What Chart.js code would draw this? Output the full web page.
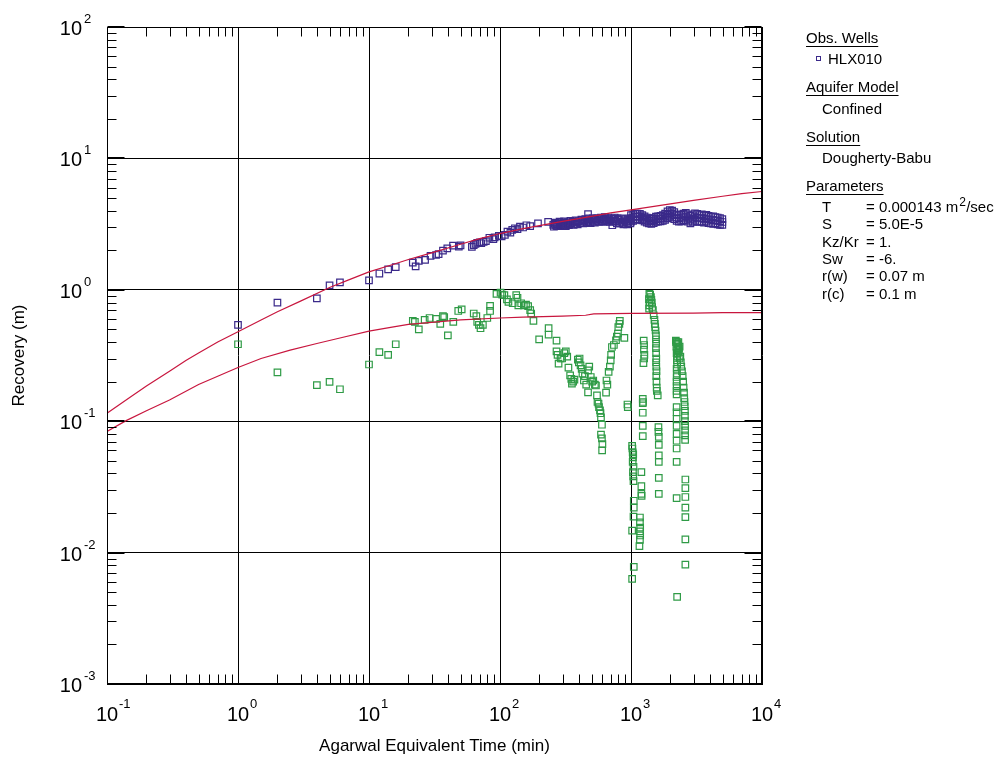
<!DOCTYPE html>
<html>
<head>
<meta charset="utf-8">
<script src="https://cdn.jsdelivr.net/npm/chart.js@4.4.0/dist/chart.umd.min.js"></script>
<style>
  body { margin: 0; background: #fff; }
  #wrap { width: 1000px; height: 758px; position: relative; }
</style>
</head>
<body>
<div id="wrap"><canvas id="chart"></canvas></div>
<script>
// --- tick labels (decade exponents) ---
const xExponents = [-1, 0, 1, 2, 3, 4];
const yExponents = [-3, -2, -1, 0, 1, 2];

// --- HLX010 recovery, sparse part (min, m) ---
const blueX = [1.0, 2.0, 4.0, 5.0, 6.0, 10, 12, 14, 16, 21.6, 22.7, 24, 26.8, 29.5, 32.5, 34, 36.7, 39.6, 43.8, 48.5, 50,
  61, 63, 65, 67, 70, 72, 75, 78, 83, 89, 91, 98, 103, 109, 114, 120, 124, 130, 136, 142, 150, 159, 170, 195, 233,
  255, 262, 268, 275, 282, 290, 298, 305, 312, 320, 330, 340, 350, 360, 372, 385, 398, 410, 425, 440, 455, 470, 470,
  485, 500, 520, 540, 560, 580, 600, 620, 640, 660, 680, 700, 720, 740, 760, 780, 800, 830, 860, 890, 920, 950, 980,
  258, 265, 272, 285, 295, 308, 318, 335, 345, 365, 378, 392, 418, 432, 448, 462, 478, 492, 510, 530,
  550, 570, 590, 610, 630, 650, 670, 690, 710, 730, 750, 770, 790, 815, 845, 875, 905, 935, 965, 990];
const blueY = [0.54, 0.80, 0.86, 1.08, 1.14, 1.18, 1.33, 1.43, 1.49, 1.61, 1.51, 1.66, 1.69, 1.81, 1.84, 1.87, 1.99, 2.07, 2.17, 2.13, 2.18,
  2.12, 2.19, 2.24, 2.28, 2.30, 2.26, 2.32, 2.35, 2.49, 2.43, 2.51, 2.57, 2.55, 2.62, 2.77, 2.72, 2.86, 2.94, 2.90, 3.02, 2.98, 3.10, 3.05, 3.20, 3.29,
  3.12, 3.18, 3.08, 3.15, 3.22, 3.10, 3.17, 3.25, 3.12, 3.20, 3.28, 3.15, 3.22, 3.30, 3.18, 3.26, 3.33, 3.21, 3.30, 3.38, 3.25, 3.77, 3.35,
  3.28, 3.40, 3.30, 3.42, 3.35, 3.45, 3.32, 3.40, 3.48, 3.36, 3.44, 3.38, 3.10, 3.46, 3.35, 3.20, 3.42, 3.30, 3.25, 3.38, 3.30, 3.22, 3.40,
  3.02, 3.25, 3.05, 3.30, 3.05, 3.32, 3.05, 3.10, 3.35, 3.12, 3.38, 3.15, 3.42, 3.20, 3.45, 3.28, 3.50, 3.22, 3.50, 3.25,
  3.52, 3.28, 3.55, 3.30, 3.58, 3.30, 3.55, 3.28, 3.50, 3.32, 3.55, 3.30, 3.50, 3.20, 3.50, 3.15, 3.45, 3.15, 3.50, 3.20];

// --- HLX010 recovery, dense late band (top / middle / bottom of the band) ---
const bandX = [1000, 1040, 1080, 1120, 1170, 1220, 1270, 1320, 1370, 1430, 1490, 1550, 1610, 1680, 1750, 1820, 1900, 1980, 2060, 2140,
  2230, 2320, 2420, 2520, 2620, 2730, 2840, 2960, 3080, 3200, 3330, 3470, 3610, 3760, 3910, 4070, 4240, 4410, 4590, 4780, 4980];
const bandHi = [3.70, 3.75, 3.80, 3.80, 3.78, 3.70, 3.62, 3.55, 3.50, 3.48, 3.52, 3.60, 3.62, 3.65, 3.70, 3.80, 3.95, 4.05, 4.00, 3.90,
  3.75, 3.70, 3.72, 3.80, 3.85, 3.75, 3.65, 3.70, 3.82, 3.78, 3.70, 3.75, 3.68, 3.72, 3.65, 3.60, 3.62, 3.58, 3.55, 3.52, 3.45];
const bandMid = [3.50, 3.55, 3.60, 3.62, 3.60, 3.54, 3.46, 3.40, 3.35, 3.33, 3.37, 3.44, 3.46, 3.48, 3.52, 3.60, 3.72, 3.82, 3.78, 3.68,
  3.55, 3.50, 3.52, 3.58, 3.62, 3.52, 3.42, 3.48, 3.58, 3.54, 3.49, 3.52, 3.46, 3.50, 3.43, 3.40, 3.40, 3.38, 3.35, 3.32, 3.28];
const bandLo = [3.30, 3.35, 3.40, 3.45, 3.42, 3.38, 3.30, 3.25, 3.20, 3.18, 3.22, 3.28, 3.30, 3.32, 3.35, 3.40, 3.50, 3.60, 3.55, 3.45,
  3.35, 3.30, 3.32, 3.38, 3.40, 3.30, 3.20, 3.28, 3.35, 3.30, 3.28, 3.30, 3.25, 3.30, 3.22, 3.20, 3.18, 3.20, 3.15, 3.12, 3.12];

// --- derivative points (green) ---
const greenX = [1.0, 2.0, 4.0, 5.0, 6.0, 10, 12, 14, 16, 21.6, 22.4, 24, 26.6, 29, 32.5, 35, 36.7, 37.5, 40, 44, 48, 51,
  63, 66, 67, 69, 71, 74, 80, 84, 84, 94, 101, 104, 108, 113, 116, 125, 133, 136, 138, 145, 152, 158, 164, 170, 173, 180,
  199, 235, 235, 270, 270, 275, 280, 290, 298, 310, 318, 326, 333, 343, 350, 354, 362, 370, 393, 400, 405, 412, 420, 426,
  437, 445, 455, 470, 470, 480, 493, 505, 515, 530, 540, 550, 555, 565, 570, 580, 585, 590, 600, 590, 600, 605, 602,
  645, 650, 660, 675, 690, 700, 705, 715, 740, 768, 780, 795, 800, 815, 822, 890, 940, 945,
  1020, 1025, 1030, 1035, 1040, 1030, 1045, 1035, 1040, 1045, 1050, 1050, 1045, 1020, 1050, 1020,
  1170, 1170, 1175, 1170, 1175, 1170, 1160, 1200, 1200, 1200, 1205, 1230, 1230, 1235, 1230, 1230, 1230,
  1250, 1260, 1255, 1265, 1260, 1245,
  1380, 1400, 1370, 1390, 1380, 1375, 1420, 1430, 1440, 1450, 1470, 1490, 1510, 1520, 1530, 1540, 1550, 1550, 1555, 1550,
  1555, 1560, 1555, 1560, 1565, 1560, 1565, 1570, 1575, 1600, 1620, 1620, 1630, 1630, 1630, 1630, 1630, 1630,
  2200, 2240, 2260, 2220, 2250, 2230, 2260, 2240, 2250, 2230, 2240, 2230, 2230, 2230, 2230, 2230, 2230, 2230, 2230, 2230,
  2230, 2230, 2230, 2230, 2230, 2250, 2210, 2280, 2320, 2270, 2350, 2300,
  2300, 2350, 2320, 2380, 2400, 2420, 2450, 2480, 2500, 2520, 2540, 2550, 2560, 2570, 2580, 2580, 2580, 2590, 2590, 2590, 2590,
  2600, 2600, 2600, 2600, 2600, 2600, 2600];
const greenY = [0.385, 0.235, 0.188, 0.199, 0.175, 0.27, 0.336, 0.32, 0.385, 0.58, 0.57, 0.50, 0.59, 0.61, 0.60, 0.55, 0.63, 0.62, 0.45, 0.57, 0.69, 0.71,
  0.66, 0.63, 0.57, 0.54, 0.51, 0.54, 0.61, 0.69, 0.755, 0.93, 0.95, 0.92, 0.91, 0.845, 0.81, 0.79, 0.91, 0.87, 0.76, 0.79, 0.76, 0.77, 0.75, 0.70, 0.66, 0.58,
  0.42, 0.51, 0.456, 0.41, 0.34, 0.32, 0.274, 0.30, 0.30, 0.33, 0.34, 0.31, 0.256, 0.223, 0.21, 0.193, 0.20, 0.207, 0.294, 0.28, 0.30, 0.266, 0.25, 0.23,
  0.204, 0.22, 0.19, 0.244, 0.166, 0.26, 0.217, 0.20, 0.204, 0.19, 0.187, 0.157, 0.14, 0.136, 0.128, 0.121, 0.115, 0.107, 0.094, 0.079, 0.074, 0.067, 0.060,
  0.165, 0.204, 0.19, 0.237, 0.26, 0.29, 0.32, 0.367, 0.38, 0.413, 0.44, 0.465, 0.52, 0.55, 0.58, 0.43, 0.134, 0.128,
  0.065, 0.062, 0.058, 0.053, 0.056, 0.049, 0.045, 0.041, 0.038, 0.035, 0.0248, 0.022, 0.0188, 0.0147, 0.0078, 0.0063,
  0.0185, 0.017, 0.0155, 0.0145, 0.0135, 0.0125, 0.0112, 0.041, 0.032, 0.028, 0.027, 0.148, 0.137, 0.140, 0.116, 0.092, 0.077,
  0.41, 0.38, 0.35, 0.32, 0.30, 0.277,
  0.93, 0.92, 0.85, 0.80, 0.76, 0.72, 0.88, 0.84, 0.80, 0.74, 0.70, 0.64, 0.59, 0.55, 0.52, 0.49, 0.45, 0.42, 0.39, 0.36,
  0.33, 0.30, 0.28, 0.26, 0.24, 0.22, 0.20, 0.18, 0.17, 0.157, 0.09, 0.083, 0.076, 0.066, 0.055, 0.049, 0.037, 0.028,
  0.41, 0.40, 0.39, 0.37, 0.35, 0.33, 0.31, 0.29, 0.27, 0.25, 0.23, 0.217, 0.20, 0.185, 0.17, 0.16, 0.128, 0.117, 0.104, 0.092,
  0.08, 0.071, 0.062, 0.049, 0.026, 0.0046, 0.40, 0.38, 0.36, 0.33, 0.30, 0.35,
  0.40, 0.37, 0.34, 0.31, 0.28, 0.26, 0.24, 0.22, 0.20, 0.18, 0.165, 0.15, 0.14, 0.13, 0.12, 0.11, 0.10, 0.092, 0.085, 0.078, 0.072,
  0.036, 0.031, 0.0265, 0.022, 0.0186, 0.0126, 0.0081];

// --- Dougherty-Babu type curves ---
const modelX = [0.1, 0.15, 0.2, 0.3, 0.4, 0.5, 0.7, 1, 1.5, 2, 3, 5, 7, 10, 15, 20, 30, 50, 70, 100, 150, 200, 300, 500, 700, 1000, 2000, 3000, 5000, 7000, 10000];
const modelY = [0.115, 0.152, 0.185, 0.24, 0.29, 0.33, 0.40, 0.48, 0.59, 0.68, 0.82, 1.04, 1.19, 1.37, 1.55, 1.70, 1.91, 2.22, 2.45, 2.68, 2.92, 3.08, 3.32, 3.62, 3.85, 4.06, 4.50, 4.80, 5.15, 5.40, 5.60];
const derivX = [0.1, 0.14, 0.2, 0.3, 0.5, 0.7, 1, 1.5, 2.5, 4, 6, 10, 15, 20, 30, 50, 100, 150, 300, 450, 520, 1000, 3000, 5000, 10000];
const derivY = [0.0835, 0.101, 0.12, 0.145, 0.19, 0.22, 0.256, 0.30, 0.347, 0.39, 0.43, 0.484, 0.52, 0.545, 0.565, 0.59, 0.61, 0.62, 0.63, 0.64, 0.655, 0.662, 0.665, 0.67, 0.67];

const FONT = '"Liberation Sans", Arial, sans-serif';
const BLUE = '#3b2a8a';
const GREEN = '#2f9b46';
const RED = '#c8163e';

const toPts = (xs, ys) => xs.map((v, i) => ({ x: v, y: ys[i] }));
const bluePts = toPts(blueX, blueY)
  .concat(toPts(bandX, bandHi), toPts(bandX, bandMid), toPts(bandX, bandLo));

// inward ticks, superscript labels, titles, side legend
const decorPlugin = {
  id: 'decor',
  afterDraw(chart) {
    const { ctx, chartArea: a, scales: { x, y } } = chart;
    const L = Math.round(a.left) + 0.5, R = Math.round(a.right) - 0.5;
    const T = Math.round(a.top) + 0.5, B = Math.round(a.bottom) - 0.5;
    ctx.save();
    ctx.strokeStyle = '#000';
    ctx.lineWidth = 1;
    ctx.strokeRect(L, T, R - L, B - T);

    ctx.beginPath();
    for (let e = -1; e < 4; e++) {
      for (let m = 2; m <= 9; m++) {
        const px = Math.round(x.getPixelForValue(m * Math.pow(10, e))) + 0.5;
        ctx.moveTo(px, B); ctx.lineTo(px, B - 9);
        ctx.moveTo(px, T); ctx.lineTo(px, T + 9);
      }
    }
    for (let e = -3; e < 2; e++) {
      for (let m = 2; m <= 9; m++) {
        const py = Math.round(y.getPixelForValue(m * Math.pow(10, e))) + 0.5;
        ctx.moveTo(L, py); ctx.lineTo(L + 9, py);
        ctx.moveTo(R, py); ctx.lineTo(R - 9, py);
      }
    }
    ctx.stroke();
    ctx.lineWidth = 2;
    ctx.beginPath();
    yExponents.forEach(e => {
      const py = Math.round(y.getPixelForValue(Math.pow(10, e)));
      ctx.moveTo(L, py); ctx.lineTo(L + 17, py);
      ctx.moveTo(R, py); ctx.lineTo(R - 17, py);
    });
    ctx.stroke();

    // tick labels
    ctx.fillStyle = '#000';
    ctx.textBaseline = 'alphabetic';
    xExponents.forEach(e => {
      const px = x.getPixelForValue(Math.pow(10, e));
      ctx.font = '20px ' + FONT;
      ctx.textAlign = 'center';
      ctx.fillText('10', px, 721);
      ctx.font = '13px ' + FONT;
      ctx.textAlign = 'left';
      ctx.fillText(String(e), px + 12, 708);
    });
    yExponents.forEach(e => {
      const py = y.getPixelForValue(Math.pow(10, e));
      ctx.font = '20px ' + FONT;
      ctx.textAlign = 'right';
      ctx.fillText('10', 82, py + 8);
      ctx.font = '13px ' + FONT;
      ctx.textAlign = 'left';
      ctx.fillText(String(e), 84, py - 4);
    });

    // axis titles
    ctx.font = '17px ' + FONT;
    ctx.textAlign = 'center';
    ctx.fillText('Agarwal Equivalent Time (min)', (a.left + a.right) / 2, 751);
    ctx.save();
    ctx.translate(24, (a.top + a.bottom) / 2);
    ctx.rotate(-Math.PI / 2);
    ctx.fillText('Recovery (m)', 0, 0);
    ctx.restore();

    // side legend
    ctx.font = '15px ' + FONT;
    ctx.textAlign = 'left';
    const head = (txt, ty) => {
      ctx.fillText(txt, 806, ty);
      const w = ctx.measureText(txt).width;
      ctx.fillRect(806, ty + 3, w, 1);
    };
    head('Obs. Wells', 43);
    ctx.strokeStyle = BLUE; ctx.lineWidth = 1;
    ctx.strokeRect(816.5, 56.5, 4, 4);
    ctx.fillText('HLX010', 828, 64);
    head('Aquifer Model', 92);
    ctx.fillText('Confined', 822, 114);
    head('Solution', 142);
    ctx.fillText('Dougherty-Babu', 822, 163);
    head('Parameters', 191);
    const params = [['T', '= 0.000143 m'], ['S', '= 5.0E-5'], ['Kz/Kr', '= 1.'], ['Sw', '= -6.'], ['r(w)', '= 0.07 m'], ['r(c)', '= 0.1 m']];
    params.forEach((p, i) => {
      const ty = 212 + i * 17.3;
      ctx.font = '15px ' + FONT;
      ctx.fillText(p[0], 822, ty);
      ctx.fillText(p[1], 866, ty);
      if (i === 0) {
        const w = ctx.measureText(p[1]).width;
        ctx.font = '12px ' + FONT;
        ctx.fillText('2', 866 + w + 1, ty - 6);
        ctx.font = '15px ' + FONT;
        ctx.fillText('/sec', 866 + w + 8, ty);
      }
    });
    ctx.restore();
  }
};

const decadeTicks = (min, max) => scale => {
  scale.ticks = [];
  for (let e = min; e <= max; e++) scale.ticks.push({ value: Math.pow(10, e) });
};

new Chart(document.getElementById('chart'), {
  type: 'scatter',
  data: {
    datasets: [
      { label: 'model', data: toPts(modelX, modelY), showLine: true, borderColor: RED, borderWidth: 1.2, pointRadius: 0, order: 0 },
      { label: 'deriv', data: toPts(derivX, derivY), showLine: true, borderColor: RED, borderWidth: 1.2, pointRadius: 0, order: 0 },
      { label: 'HLX010', data: bluePts, pointStyle: 'rect', pointRadius: 4.6, borderColor: BLUE, backgroundColor: 'rgba(0,0,0,0)', borderWidth: 1.2, order: 1 },
      { label: 'deriv pts', data: toPts(greenX, greenY), pointStyle: 'rect', pointRadius: 4.6, borderColor: GREEN, backgroundColor: 'rgba(0,0,0,0)', borderWidth: 1.2, order: 2 }
    ]
  },
  options: {
    responsive: true,
    maintainAspectRatio: false,
    animation: false,
    layout: { padding: { left: 107, right: 238, top: 27, bottom: 74 } },
    plugins: { legend: { display: false }, tooltip: { enabled: false } },
    scales: {
      x: {
        type: 'logarithmic', min: 0.1, max: 10000,
        afterBuildTicks: decadeTicks(-1, 4),
        ticks: { display: false },
        grid: { color: '#000', lineWidth: 1, drawTicks: false },
        border: { display: true, color: '#000' }
      },
      y: {
        type: 'logarithmic', min: 0.001, max: 100,
        afterBuildTicks: decadeTicks(-3, 2),
        ticks: { display: false },
        grid: { color: '#000', lineWidth: 1, drawTicks: false },
        border: { display: true, color: '#000' }
      }
    }
  },
  plugins: [decorPlugin]
});
</script>
</body>
</html>
